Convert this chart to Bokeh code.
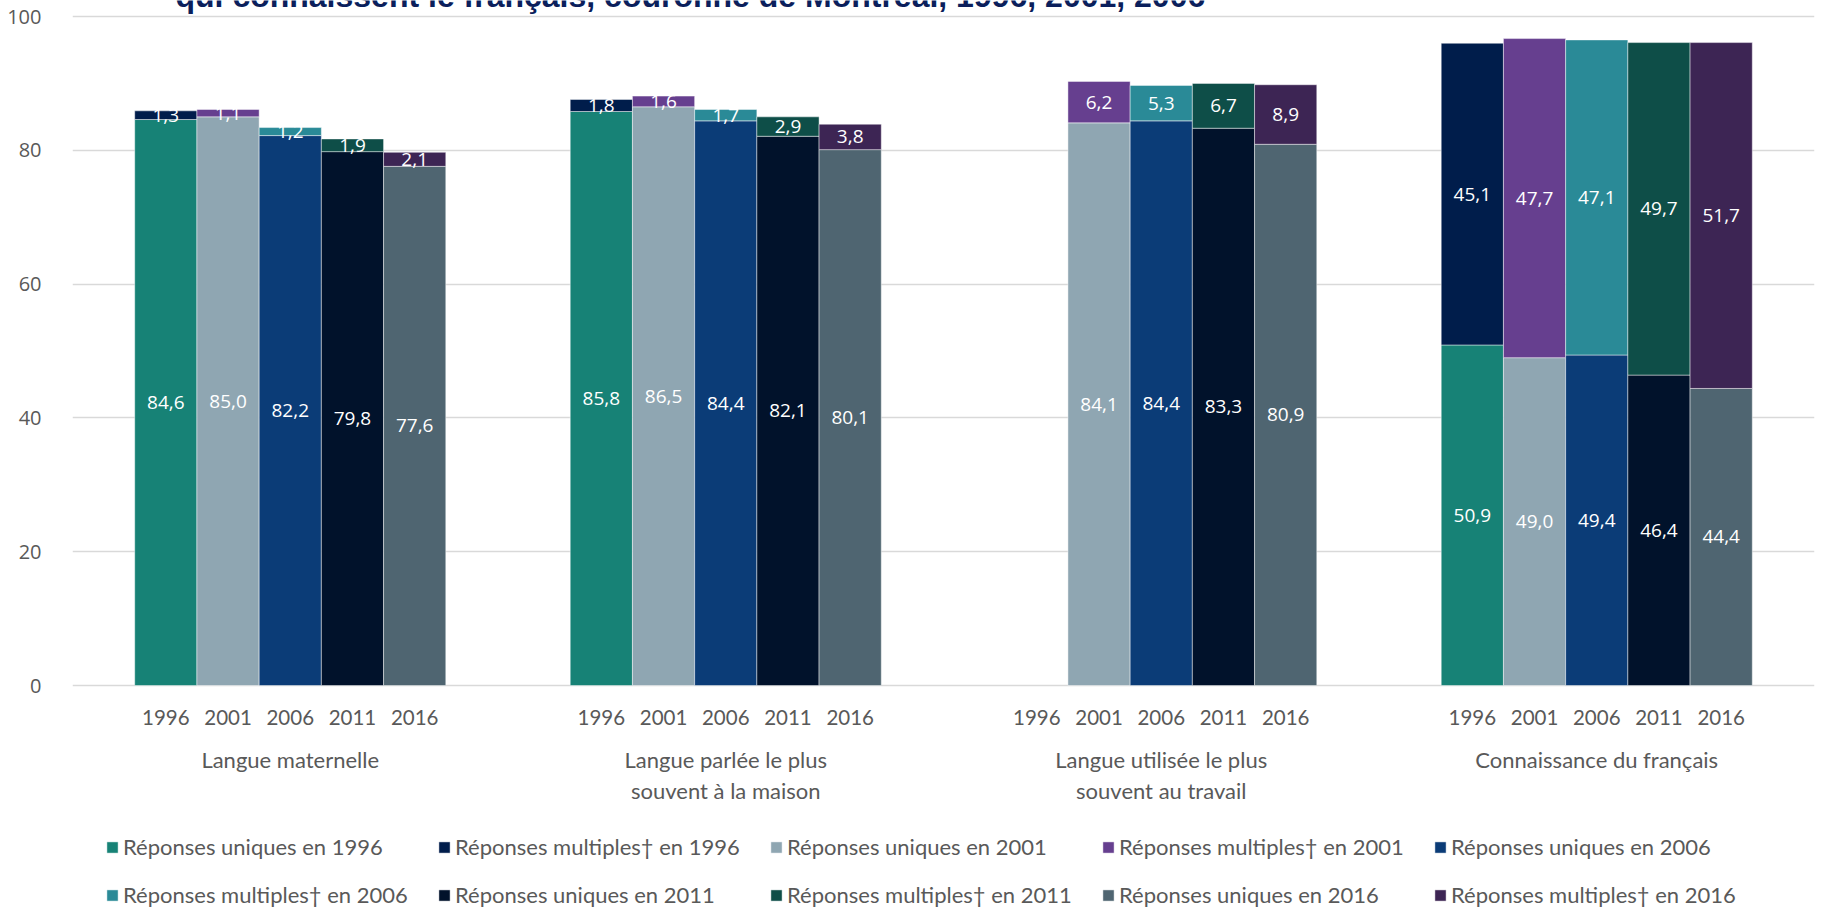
from bokeh.plotting import figure
from bokeh.models import FactorRange, ColumnDataSource, Legend, LegendItem, Label, FixedTicker
from bokeh.core.properties import value
from bokeh.embed import file_html
from bokeh.resources import INLINE

# ---------------- data ----------------
groups = ["Langue maternelle",
          "Langue parlée le plus\nsouvent à la maison",
          "Langue utilisée le plus\nsouvent au travail",
          "Connaissance du français"]
years = ["1996", "2001", "2006", "2011", "2016"]

uniques_1996 = [84.6, 85.8, None, 50.9]
multiples_1996 = [1.3, 1.8, None, 45.1]
uniques_2001 = [85.0, 86.5, 84.1, 49.0]
multiples_2001 = [1.1, 1.6, 6.2, 47.7]
uniques_2006 = [82.2, 84.4, 84.4, 49.4]
multiples_2006 = [1.2, 1.7, 5.3, 47.1]
uniques_2011 = [79.8, 82.1, 83.3, 46.4]
multiples_2011 = [1.9, 2.9, 6.7, 49.7]
uniques_2016 = [77.6, 80.1, 80.9, 44.4]
multiples_2016 = [2.1, 3.8, 8.9, 51.7]

y_ticks = [0, 20, 40, 60, 80, 100]
title_text = "qui connaissent le français, couronne de Montréal, 1996, 2001, 2006"

uniques = {"1996": uniques_1996, "2001": uniques_2001, "2006": uniques_2006,
           "2011": uniques_2011, "2016": uniques_2016}
multiples = {"1996": multiples_1996, "2001": multiples_2001, "2006": multiples_2006,
             "2011": multiples_2011, "2016": multiples_2016}

col_uniques = {"1996": "#178276", "2001": "#8fa6b2", "2006": "#0b3c77",
               "2011": "#01122b", "2016": "#4f6571"}
col_multiples = {"1996": "#001d4b", "2001": "#663f8f", "2006": "#2a8a97",
                 "2011": "#0e4e48", "2016": "#3d2554"}

# ---------------- figure ----------------
factors = [(g, y) for g in groups for y in years]
x_range = FactorRange(*factors, group_padding=2, factor_padding=0,
                      range_padding=1, range_padding_units="absolute")

W, H = 1823, 914
ZERO_PX = 685          # pixel row of value 0
TOP_100 = 16           # pixel row of value 100
px_per_unit = (ZERO_PX - TOP_100) / 100.0
y_max = ZERO_PX / px_per_unit
y_min = -(H - ZERO_PX) / px_per_unit

p = figure(x_range=x_range, y_range=(y_min, y_max), width=W, height=H,
           output_backend="svg", toolbar_location=None,
           min_border_left=72, min_border_right=9, min_border_top=0,
           min_border_bottom=0)
p.outline_line_color = None
p.background_fill_color = "white"
p.border_fill_color = "white"

def fmt(v):
    return "" if v is None else f"{v:.1f}".replace(".", ",")

nan = float("nan")
items = []
label_x, label_y, label_t = [], [], []
for y in years:
    xs = [(g, y) for g in groups]
    u = [nan if v is None else v for v in uniques[y]]
    m = [nan if v is None else v for v in multiples[y]]
    top_m = [a + b for a, b in zip(u, m)]
    src_u = ColumnDataSource(dict(x=xs, bottom=[0] * len(xs), top=u))
    src_m = ColumnDataSource(dict(x=xs, bottom=u, top=top_m))
    ru = p.vbar(x="x", bottom="bottom", top="top", width=1.0, source=src_u,
                fill_color=col_uniques[y], line_color="white", line_alpha=0.45, line_width=1)
    rm = p.vbar(x="x", bottom="bottom", top="top", width=1.0, source=src_m,
                fill_color=col_multiples[y], line_color="white", line_alpha=0.45, line_width=1)
    items.append(LegendItem(label="Réponses uniques en " + y, renderers=[ru]))
    items.append(LegendItem(label="Réponses multiples† en " + y, renderers=[rm]))
    for i, g in enumerate(groups):
        if uniques[y][i] is None:
            continue
        label_x.append((g, y)); label_y.append(u[i] / 2); label_t.append(fmt(uniques[y][i]))
        label_x.append((g, y)); label_y.append(u[i] + m[i] / 2); label_t.append(fmt(multiples[y][i]))

lab_src = ColumnDataSource(dict(x=label_x, y=label_y, t=label_t))
p.text(x="x", y="y", text="t", source=lab_src, text_color="white",
       text_font=value("Open Sans"), text_font_size="19px",
       text_align="center", text_baseline="middle")

# ---------------- axes / grid ----------------
p.xgrid.grid_line_color = None
p.ygrid.grid_line_color = "#d9d9d9"
p.ygrid.grid_line_width = 1.6
p.yaxis.ticker = FixedTicker(ticks=y_ticks)
p.yaxis.axis_line_color = None
p.yaxis.major_tick_line_color = None
p.yaxis.minor_tick_line_color = None
p.yaxis.major_label_text_font = "Open Sans"
p.yaxis.major_label_text_font_size = "20px"
p.yaxis.major_label_text_color = "#595959"
p.yaxis.major_label_standoff = 25

p.xaxis.fixed_location = 0
p.xaxis.axis_line_color = None
p.xaxis.major_tick_line_color = None
p.xaxis.minor_tick_line_color = None
p.xaxis.separator_line_color = None
p.xaxis.major_label_text_font = "Lato"
p.xaxis.major_label_text_font_size = "20.5px"
p.xaxis.major_label_text_color = "#595959"
p.xaxis.major_label_standoff = 18
p.xaxis.group_text_font = "Lato"
p.xaxis.group_text_font_size = "22px"
p.xaxis.group_text_color = "#595959"
p.xaxis.group_text_font_style = "normal"
p.xaxis.group_text_line_height = 1.15
p.xaxis.major_label_orientation = "horizontal"
p.xaxis.group_label_orientation = "horizontal"

# ---------------- title (partly cut at the top) ----------------
title = Label(x=103, y=H + 5, x_units="screen", y_units="screen", text=title_text,
              text_font="Liberation Sans", text_font_style="bold",
              text_font_size="32px", text_color="#0b1f5c",
              text_baseline="alphabetic", text_align="left")
p.add_layout(title)

# ---------------- legend ----------------
legend = Legend(items=items, orientation="horizontal", ncols=5,
                location=(33, 6))
legend.glyph_width = 14
legend.glyph_height = 14
legend.label_standoff = 4
legend.spacing = 21
legend.padding = 0
legend.margin = 0
legend.border_line_color = None
legend.background_fill_alpha = 0
legend.label_text_font = "Lato"
legend.label_text_font_size = "22px"
legend.label_text_color = "#595959"
legend.label_height = 24
legend.label_width = 293
p.add_layout(legend)

open("out.html", "w").write(file_html(p, INLINE))
